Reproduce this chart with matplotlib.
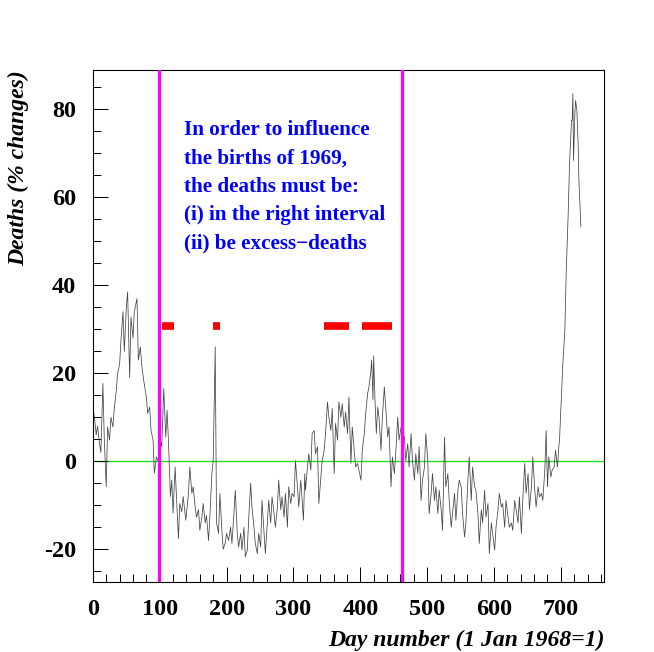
import numpy as np
import matplotlib
matplotlib.use("Agg")
import matplotlib.pyplot as plt
from matplotlib.ticker import MultipleLocator

# day number and death excess (%)
days = [0, 3, 5, 7, 10, 12, 15, 17, 20, 22, 25, 27, 30, 32, 35, 37, 40, 42, 45, 47,
        50, 52, 55, 57, 60, 62, 66, 68, 71, 73, 76, 80, 82, 85, 87, 90, 92, 95, 98,
        101, 103, 106, 109, 111, 113, 116, 118, 120, 123, 125, 128, 130, 133, 135, 139,
        143, 145, 148, 150, 153, 155, 158, 160, 163, 165, 168, 170, 173, 175, 178, 180,
        183, 184, 185, 188, 190, 193, 195, 198, 200, 203,
        206, 208, 211, 213, 216, 218, 221, 223, 226, 228, 231, 233, 236, 238, 241, 243,
        246, 248, 251, 253, 256, 258, 261, 263, 266, 268, 271, 273, 276, 278, 281, 283,
        286, 288, 291, 293, 296, 298, 301, 303, 306, 308,
        311, 313, 315, 317, 318, 321, 323, 326, 328, 331, 333, 336, 338, 341, 343, 346,
        348, 351, 353, 356, 358, 361, 363, 366, 368, 371, 373, 376, 378, 381, 383, 386,
        388, 391, 393, 396, 398, 401, 403, 406, 408, 411, 413, 416, 417, 419, 420, 422,
        424, 426, 428, 431, 433, 436, 438, 441, 443, 446, 448, 451, 453, 456, 458, 461,
        466, 468, 471, 473, 476, 478, 481, 483, 486, 488, 491, 493, 496, 498, 501, 503,
        506, 508, 511, 513, 516, 518, 521, 523, 526, 528, 531, 533, 536, 538, 541, 543,
        546, 548, 551, 553, 556, 558, 561, 563, 566, 568, 571, 573, 576, 578, 581, 583,
        586, 588, 591, 593, 596, 598, 601, 603, 606, 608,
        611, 613, 616, 618, 621, 623, 626, 628, 631, 633, 636, 638, 641, 643, 646, 648,
        651, 653, 656, 658, 661, 663, 666, 668, 671, 673, 676, 678, 680, 682, 685, 687,
        690, 692, 695, 697, 698, 700, 703, 706, 708, 711, 713, 716, 717, 718, 719, 721,
        722, 724, 726, 727, 729, 730]
deaths = [12.7, 9, 6, 8, 4, 2, 17.7, 5.5, -5.8, 7.8, 4.8, 10, 7.8, 12, 16, 20, 22, 27.5, 34, 25,
          35, 38.5, 19, 32.8, 28, 34, 37, 23, 26, 22, 18.4, 14.6, 10.9, 12.3, 7, 4.8, -2.7, 1, 0,
          4.8, 3.3, 16.5, 5.5, 11.6, 4.8, -8, -4.3, -11.8, -1.3, -8, -17.6, -9.6, -11.5, -8, -13.4,
          -7.3, -1.3, -7.3, -5.8, -10.4, -12.7, -11, -15.7, -12.7, -9.6, -14, -12.3, -18, -12.7, -2.8, 0.2,
          26, 7, -14, -16.4, -7.3, -15.7, -20, -18.6, -16.4, -18,
          -15, -18.7, -11.9, -6.6, -16.4, -19.5, -16.4, -20.2, -15, -21.7, -20.2, -13.4, -5, -10.4, -15, -18.7,
          -21, -16.4, -19.5, -8.9, -16.4, -21, -14, -8.9, -14, -8.1, -11.9, -15, -10.4, -4.3, -11, -8.1,
          -12.7, -7.3, -15, -5.8, -9.6, -7.3, -8.1, 0.2, -5.8, -10.4,
          -4.3, -8.9, -13.4, -2.8, -6.6, -1.3, 1.7, -2, 6.3, 7, 1.7, 3.3, -9.6, -3.6, 0.2, 2.5,
          6.3, 13.5, 10, 7, 12, -2.8, 8.6, 4.8, 13.5, 10, 13.1, 7.8, 11.2, 6.3, 14.6, -0.5,
          7.8, 2.5, -1.3, -0.5, -2, -4.3, 2.5, 6.3, 10.8, 15.4, 16.9, 20.7, 23, 14, 24, 14,
          6.3, 12.3, 10, 2.5, 10, 16.9, 12.3, 5.5, 7.8, -5.8, 1, -2.8, 1.7, 10, 4.8, 7.8,
          5.5, 0.2, 4, -1.3, 6.3, 0.2, -4.3, 1.7, -2.8, 3.3, -8.9, -4.3, -1.3, 6.3, 0.2, -11.9,
          -7.3, -2.8, -8.9, -5.8, -11.9, -6.6, -11, -15.7, 5.5, -5.8, -2.8, -8.9, -15, -11.9, -7.3, -13.4,
          -6.6, -4.3, -5.8, -11.9, -17.2, -14, -4.3, 1, -8.9, -1.3, -5.8, -6.6, -11.9, -18.7, -11, -14,
          -6.6, -12.7, -9.6, -21, -14, -16.4, -20.2, -15, -11, -7.3,
          -10.4, -9.6, -15, -8.9, -12.7, -15, -14, -15.7, -8.9, -11, -14, -8.1, -16.4, -8.9, -0.5, -7.3,
          -2.8, -11, -5.8, 1, -6.6, -10.4, -5.8, -8.1, -7.3, -8.9, -2, 7, -5.8, 1, -3.6, -2,
          -1.3, 2.5, -1.3, 3.3, 4.8, 11.6, 22.2, 29.8, 42.7, 56.3, 67.7, 77.5, 77.5, 83.6, 68.4, 79,
          82, 79.8, 71.4, 63.9, 57, 53.3]

interval = [99, 463]
excess_start = [104, 179, 345, 402]
excess_end = [121, 190, 383, 447]
excess_level = 30.8

note = ("In order to influence\nthe births of 1969,\nthe deaths must be:\n"
        "(i) in the right interval\n(ii) be excess\u2212deaths")

plt.rcParams['font.family'] = ['Liberation Serif', 'DejaVu Serif']
plt.rcParams['axes.unicode_minus'] = False

fig = plt.figure(figsize=(6.54, 6.52), dpi=100)
ax = fig.add_axes([0.142, 0.107, 0.782, 0.786])

ax.axhline(0, color='#22dd22', lw=1.0, zorder=1)
ax.plot(days, deaths, color='#444444', lw=0.55, zorder=2)
for xv in interval:
    ax.axvline(xv, color='#ff00ff', lw=2.3, zorder=3)
ax.hlines([excess_level] * len(excess_start), excess_start, excess_end,
          color='#ff0000', lw=5.5, capstyle='butt', zorder=3)

ax.text(137, 77.5, note, color='#0000ff', fontsize=15.2, fontweight='bold',
        va='top', ha='left', linespacing=1.55)

ax.set_xlim(0, 765)
ax.set_ylim(-27.5, 89)
ax.xaxis.set_major_locator(MultipleLocator(100))
ax.xaxis.set_minor_locator(MultipleLocator(20))
ax.yaxis.set_major_locator(MultipleLocator(20))
ax.yaxis.set_minor_locator(MultipleLocator(5))
ax.tick_params(which='both', direction='in', top=False, right=False, width=0.7,
               labelsize=17.5, colors='black')
ax.tick_params(which='major', length=11, pad=12)
ax.tick_params(which='minor', length=5.5)
for lab in ax.get_xticklabels() + ax.get_yticklabels():
    lab.set_fontweight('bold')
for sp in ax.spines.values():
    sp.set_linewidth(0.8)

ax.set_xlabel('Day number (1 Jan 1968=1)', loc='right', fontsize=17,
              fontweight='bold', fontstyle='italic', labelpad=7)
ax.set_ylabel('Deaths (% changes)', loc='top', fontsize=17,
              fontweight='bold', fontstyle='italic', labelpad=11)

fig.savefig('out.png', dpi=100, facecolor='white')
